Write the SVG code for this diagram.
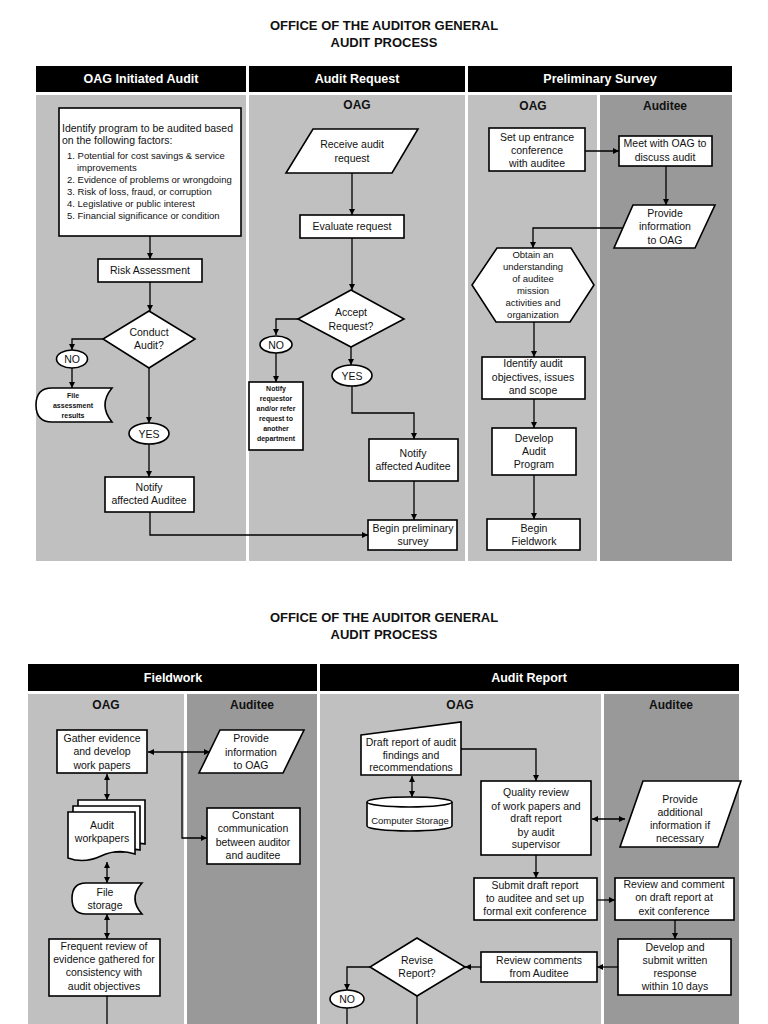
<svg xmlns="http://www.w3.org/2000/svg" width="768" height="1024" viewBox="0 0 768 1024">
<defs>
<marker id="ah" viewBox="0 0 10 10" refX="10" refY="5" markerWidth="6" markerHeight="6" orient="auto-start-reverse" markerUnits="userSpaceOnUse">
<path d="M0,0 L10,5 L0,10 Z" fill="#000"/>
</marker>
<style>
text{font-family:"Liberation Sans",Arial,sans-serif;fill:#111}
.t{font-size:10.5px;text-anchor:middle}
.ts{font-size:7px;font-weight:bold;text-anchor:middle}
.title{font-size:13px;font-weight:bold;text-anchor:middle}
.hd{font-size:12.5px;font-weight:bold;fill:#fff;text-anchor:middle}
.ln{font-size:12px;font-weight:bold;text-anchor:middle}
.bx{fill:#fff;stroke:#000;stroke-width:1.6}
.hb{fill:#000}
.lg{fill:#c0c0c0}
.dg{fill:#999}
.c{fill:none;stroke:#000;stroke-width:1.3}
.ca{fill:none;stroke:#000;stroke-width:1.3;marker-end:url(#ah)}
.cb{fill:none;stroke:#000;stroke-width:1.3;marker-end:url(#ah);marker-start:url(#ah)}
</style>
</defs>
<rect width="768" height="1024" fill="#fff"/>

<!-- Top section -->
<g id="title1">
<text class="title" x="384" y="30">OFFICE OF THE AUDITOR GENERAL</text>
<text class="title" x="384" y="47">AUDIT PROCESS</text>
</g>
<g id="lanes1">
<rect class="hb" x="36" y="66" width="210" height="26"/>
<rect class="hb" x="249" y="66" width="216" height="26"/>
<rect class="hb" x="468" y="66" width="264" height="26"/>
<text class="hd" x="141" y="83">OAG Initiated Audit</text>
<text class="hd" x="357" y="83">Audit Request</text>
<text class="hd" x="600" y="83">Preliminary Survey</text>
<rect class="lg" x="36" y="95" width="210" height="466"/>
<rect class="lg" x="249" y="95" width="216" height="466"/>
<rect class="lg" x="468" y="95" width="129" height="466"/>
<rect class="dg" x="600" y="95" width="132" height="466"/>
<text class="ln" x="357" y="109">OAG</text>
<text class="ln" x="533" y="110">OAG</text>
<text class="ln" x="665" y="110">Auditee</text>
</g>

<g id="connectors1">
<path class="ca" d="M150,236 V259"/>
<path class="ca" d="M150,282 V311"/>
<path class="ca" d="M103,339 H72 V350"/>
<path class="ca" d="M72,368 V388"/>
<path class="ca" d="M149,368 V423"/>
<path class="ca" d="M149,444 V477"/>
<path class="ca" d="M150,512 V535 H368"/>
<path class="ca" d="M352,173 V215"/>
<path class="ca" d="M352,238 V290"/>
<path class="ca" d="M298,319 H276 V335"/>
<path class="ca" d="M276,353 V382"/>
<path class="ca" d="M351,347 V365"/>
<path class="ca" d="M352,386 V413 H414 V439"/>
<path class="ca" d="M414,481 V520"/>
<path class="ca" d="M585,151 H619"/>
<path class="ca" d="M666,166 V205"/>
<path class="ca" d="M625,228 H533 V248"/>
<path class="ca" d="M534,322 V357"/>
<path class="ca" d="M534,399 V428"/>
<path class="ca" d="M534,475 V519"/>
</g>

<g id="n_identify">
<rect class="bx" x="59" y="108" width="182" height="128"/>
<text x="62" y="132" style="font-size:10.5px">Identify program to be audited based</text>
<text x="62" y="144" style="font-size:10.5px">on the following factors:</text>
<text x="67" y="159" style="font-size:9.5px">1. Potential for cost savings &amp; service</text>
<text x="77" y="171" style="font-size:9.5px">improvements</text>
<text x="67" y="183" style="font-size:9.5px">2. Evidence of problems or wrongdoing</text>
<text x="67" y="195" style="font-size:9.5px">3. Risk of loss, fraud, or corruption</text>
<text x="67" y="207" style="font-size:9.5px">4. Legislative or public interest</text>
<text x="67" y="219" style="font-size:9.5px">5. Financial significance or condition</text>
</g>
<g id="n_risk">
<rect class="bx" x="98" y="259" width="104" height="23"/>
<text class="t" x="150" y="274">Risk Assessment</text>
</g>
<g id="n_conduct">
<path class="bx" d="M149,311 L195,339 L149,368 L103,339 Z"/>
<text class="t" x="149" y="336">Conduct</text>
<text class="t" x="149" y="349">Audit?</text>
</g>
<g id="n_no1">
<ellipse class="bx" cx="72" cy="359" rx="15.5" ry="9"/>
<text class="t" x="72" y="363">NO</text>
</g>
<g id="n_file1">
<path class="bx" d="M52,388 H112 Q98,405 112,422 H52 Q36,422 36,405 Q36,388 52,388 Z"/>
<text class="ts" x="73" y="398">File</text>
<text class="ts" x="73" y="408">assessment</text>
<text class="ts" x="73" y="418">results</text>
</g>
<g id="n_yes1">
<ellipse class="bx" cx="149" cy="433.5" rx="20" ry="10.5"/>
<text class="t" x="149" y="437.5">YES</text>
</g>
<g id="n_notify1">
<rect class="bx" x="105" y="477" width="89" height="35"/>
<text class="t" x="149" y="491">Notify</text>
<text class="t" x="149" y="504">affected Auditee</text>
</g>

<g id="n_receive">
<path class="bx" d="M313,129 H418 L392,173 H286 Z"/>
<text class="t" x="352" y="148">Receive audit</text>
<text class="t" x="352" y="162">request</text>
</g>
<g id="n_evaluate">
<rect class="bx" x="300" y="215" width="104" height="23"/>
<text class="t" x="352" y="230">Evaluate request</text>
</g>
<g id="n_accept">
<path class="bx" d="M351,290 L404,319 L351,347 L298,319 Z"/>
<text class="t" x="351" y="316">Accept</text>
<text class="t" x="351" y="330">Request?</text>
</g>
<g id="n_no2">
<ellipse class="bx" cx="276" cy="344.5" rx="16" ry="8.5"/>
<text class="t" x="276" y="348.5">NO</text>
</g>
<g id="n_requestor">
<rect class="bx" x="249" y="382" width="54" height="68"/>
<text class="ts" x="276" y="391">Notify</text>
<text class="ts" x="276" y="401">requestor</text>
<text class="ts" x="276" y="411">and/or refer</text>
<text class="ts" x="276" y="421">request to</text>
<text class="ts" x="276" y="431">another</text>
<text class="ts" x="276" y="441">department</text>
</g>
<g id="n_yes2">
<ellipse class="bx" cx="352" cy="375.5" rx="20" ry="10.5"/>
<text class="t" x="352" y="379.5">YES</text>
</g>
<g id="n_notify2">
<rect class="bx" x="369" y="439" width="89" height="42"/>
<text class="t" x="413" y="457">Notify</text>
<text class="t" x="413" y="470">affected Auditee</text>
</g>
<g id="n_beginsurvey">
<rect class="bx" x="368" y="520" width="89" height="30"/>
<text class="t" x="413" y="532">Begin preliminary</text>
<text class="t" x="413" y="545">survey</text>
</g>

<g id="n_setup">
<rect class="bx" x="489" y="128" width="96" height="43"/>
<text class="t" x="537" y="141">Set up entrance</text>
<text class="t" x="537" y="154">conference</text>
<text class="t" x="537" y="167">with auditee</text>
</g>
<g id="n_meet">
<rect class="bx" x="619" y="136" width="93" height="30"/>
<text class="t" x="665" y="147">Meet with OAG to</text>
<text class="t" x="665" y="161">discuss audit</text>
</g>
<g id="n_provide1">
<path class="bx" d="M633,205 H715 L695,248 H614 Z"/>
<text class="t" x="665" y="217">Provide</text>
<text class="t" x="665" y="230">information</text>
<text class="t" x="665" y="244">to OAG</text>
</g>
<g id="n_obtain">
<path class="bx" d="M497,248 H571 L594,285 L570,322 H496 L472,285 Z"/>
<text class="t" x="533" y="258" style="font-size:9.5px">Obtain an</text>
<text class="t" x="533" y="270" style="font-size:9.5px">understanding</text>
<text class="t" x="533" y="282" style="font-size:9.5px">of auditee</text>
<text class="t" x="533" y="294" style="font-size:9.5px">mission</text>
<text class="t" x="533" y="306" style="font-size:9.5px">activities and</text>
<text class="t" x="533" y="318" style="font-size:9.5px">organization</text>
</g>
<g id="n_identifyobj">
<rect class="bx" x="482" y="357" width="103" height="42"/>
<text class="t" x="533" y="367">Identify audit</text>
<text class="t" x="533" y="381">objectives, issues</text>
<text class="t" x="533" y="394">and scope</text>
</g>
<g id="n_develop">
<rect class="bx" x="492" y="428" width="84" height="47"/>
<text class="t" x="534" y="442">Develop</text>
<text class="t" x="534" y="455">Audit</text>
<text class="t" x="534" y="468">Program</text>
</g>
<g id="n_beginfield">
<rect class="bx" x="487" y="519" width="93" height="31"/>
<text class="t" x="534" y="532">Begin</text>
<text class="t" x="534" y="545">Fieldwork</text>
</g>

<!-- Bottom section -->
<g id="title2">
<text class="title" x="384" y="622">OFFICE OF THE AUDITOR GENERAL</text>
<text class="title" x="384" y="639">AUDIT PROCESS</text>
</g>
<g id="lanes2">
<rect class="hb" x="28" y="664" width="289" height="27"/>
<rect class="hb" x="320" y="664" width="419" height="27"/>
<text class="hd" x="173" y="682">Fieldwork</text>
<text class="hd" x="529" y="682">Audit Report</text>
<rect class="lg" x="28" y="694" width="156" height="330"/>
<rect class="dg" x="187" y="694" width="130" height="330"/>
<rect class="lg" x="320" y="694" width="281" height="330"/>
<rect class="dg" x="604" y="694" width="135" height="330"/>
<text class="ln" x="106" y="709">OAG</text>
<text class="ln" x="252" y="709">Auditee</text>
<text class="ln" x="460" y="709">OAG</text>
<text class="ln" x="671" y="709">Auditee</text>
</g>

<g id="connectors2">
<path class="cb" d="M148,752 H210"/>
<path class="ca" d="M182,752 V838 H207"/>
<path class="cb" d="M107,774 V800"/>
<path class="cb" d="M107,862 V883"/>
<path class="cb" d="M107,914 V939"/>
<path class="c" d="M107,996 V1024"/>
<path class="ca" d="M461,749 H536 V781"/>
<path class="cb" d="M412,776 V797"/>
<path class="cb" d="M592,819 H625"/>
<path class="ca" d="M536,855 V878"/>
<path class="ca" d="M597,900 H615"/>
<path class="ca" d="M675,920 V939"/>
<path class="ca" d="M618,967 H597"/>
<path class="ca" d="M481,967 H465"/>
<path class="ca" d="M370,967 H347 V990"/>
<path class="c" d="M347,1008 V1024"/>
<path class="c" d="M417,996 V1024"/>
</g>

<g id="n_gather">
<rect class="bx" x="57" y="730" width="90" height="43"/>
<text class="t" x="102" y="742">Gather evidence</text>
<text class="t" x="102" y="755">and develop</text>
<text class="t" x="102" y="769">work papers</text>
</g>
<g id="n_provide2">
<path class="bx" d="M220,730 H304 L283,773 H199 Z"/>
<text class="t" x="251" y="742">Provide</text>
<text class="t" x="251" y="756">information</text>
<text class="t" x="251" y="769">to OAG</text>
</g>
<g id="n_constant">
<rect class="bx" x="207" y="808" width="93" height="56"/>
<text class="t" x="253" y="819">Constant</text>
<text class="t" x="253" y="832">communication</text>
<text class="t" x="253" y="846">between auditor</text>
<text class="t" x="253" y="859">and auditee</text>
</g>
<g id="n_workpapers">
<path class="bx" d="M78,800 H145 V844 Q138,842 128,846 L78,846 Z"/>
<path class="bx" d="M73,806 H140 V850 Q133,848 123,852 L73,852 Z"/>
<path class="bx" d="M68,812 H135 V854 Q118,848 101,856 Q84,864 68,858 Z"/>
<text class="t" x="102" y="829">Audit</text>
<text class="t" x="102" y="842">workpapers</text>
</g>
<g id="n_filestorage">
<path class="bx" d="M86,883 H142 Q128,898.5 142,914 H86 Q72,914 72,898.5 Q72,883 86,883 Z"/>
<text class="t" x="105" y="896">File</text>
<text class="t" x="105" y="909">storage</text>
</g>
<g id="n_frequent">
<rect class="bx" x="49" y="939" width="111" height="57"/>
<text class="t" x="104" y="950">Frequent review of</text>
<text class="t" x="104" y="963">evidence gathered for</text>
<text class="t" x="104" y="976">consistency with</text>
<text class="t" x="104" y="990">audit objectives</text>
</g>

<g id="n_draft">
<path class="bx" d="M361,735 L461,722 V775 H361 Z"/>
<text class="t" x="411" y="746">Draft report of audit</text>
<text class="t" x="411" y="759">findings and</text>
<text class="t" x="411" y="771">recommendations</text>
</g>
<g id="n_storage">
<path class="bx" d="M367,802 A42.5,5 0 0 1 452,802 V826 A42.5,5 0 0 1 367,826 Z"/>
<path class="c" d="M367,802 A42.5,5 0 0 0 452,802" style="stroke-width:1.6"/>
<text class="t" x="410" y="824" style="font-size:9.5px">Computer Storage</text>
</g>
<g id="n_quality">
<rect class="bx" x="481" y="781" width="110" height="74"/>
<text class="t" x="536" y="796">Quality review</text>
<text class="t" x="536" y="810">of work papers and</text>
<text class="t" x="536" y="822">draft report</text>
<text class="t" x="536" y="836">by audit</text>
<text class="t" x="536" y="848">supervisor</text>
</g>
<g id="n_additional">
<path class="bx" d="M643,781 H741 L718,847 H620 Z"/>
<text class="t" x="680" y="803">Provide</text>
<text class="t" x="680" y="816">additional</text>
<text class="t" x="680" y="829">information if</text>
<text class="t" x="680" y="842">necessary</text>
</g>
<g id="n_submit">
<rect class="bx" x="474" y="878" width="123" height="42"/>
<text class="t" x="535" y="889">Submit draft report</text>
<text class="t" x="535" y="902">to auditee and set up</text>
<text class="t" x="535" y="915">formal exit conference</text>
</g>
<g id="n_reviewcomment">
<rect class="bx" x="615" y="878" width="119" height="42"/>
<text class="t" x="674" y="888">Review and comment</text>
<text class="t" x="674" y="901">on draft report at</text>
<text class="t" x="674" y="915">exit conference</text>
</g>
<g id="n_developresp">
<rect class="bx" x="618" y="939" width="113" height="56"/>
<text class="t" x="675" y="951">Develop and</text>
<text class="t" x="675" y="964">submit written</text>
<text class="t" x="675" y="977">response</text>
<text class="t" x="675" y="990">within 10 days</text>
</g>
<g id="n_reviewcomments">
<rect class="bx" x="481" y="952" width="116" height="30"/>
<text class="t" x="539" y="964">Review comments</text>
<text class="t" x="539" y="977">from Auditee</text>
</g>
<g id="n_revise">
<path class="bx" d="M417,938 L465,967 L417,996 L370,967 Z"/>
<text class="t" x="417" y="964">Revise</text>
<text class="t" x="417" y="977">Report?</text>
</g>
<g id="n_no3">
<ellipse class="bx" cx="347" cy="999" rx="17" ry="9"/>
<text class="t" x="347" y="1003">NO</text>
</g>
</svg>
